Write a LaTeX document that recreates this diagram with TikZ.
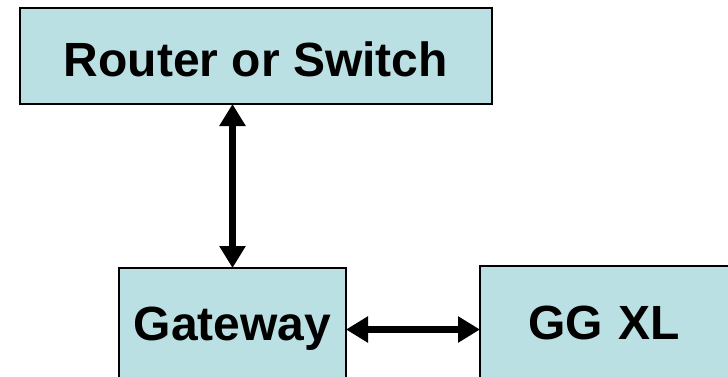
\documentclass[tikz,border=0pt]{standalone}
\usepackage{fontspec}
\setmainfont{Liberation Sans}
\usepackage{tikz}
\usetikzlibrary{arrows.meta}
\definecolor{boxfill}{RGB}{187,224,227}
\tikzset{
  box/.style={draw=black, line width=2pt, fill=boxfill, inner sep=0pt,
    font=\fontsize{48}{52}\selectfont\bfseries, text height=33pt, text depth=0pt},
  link/.style={line width=7.5pt, {Triangle[length=22pt,width=25pt]}-{Triangle[length=22pt,width=25pt]}, shorten <=-1pt, shorten >=-1pt}
}

\begin{document}
\begin{tikzpicture}[x=1pt,y=-1pt]
\useasboundingbox (0,0) rectangle (728,376);
\clip (0,0) rectangle (728,376);
\node[box, minimum width=472pt, minimum height=96pt, text height=40pt] (router) at (256,56) {Router or Switch};
\node[box, minimum width=227pt, minimum height=112pt] (gateway) at (232.5,324) {Gateway};
\node[box, anchor=west, align=left, text width=250pt, inner xsep=48pt, minimum height=114pt] (ggxl) at (479,323) {GG XL};
\coordinate (top) at (gateway.north |- router.south);
\coordinate (mid) at ([yshift=-5.5pt]gateway.east);
\draw[link] (top) -- (gateway.north);
\draw[link] (mid) -- (mid -| ggxl.west);
\end{tikzpicture}
\end{document}
